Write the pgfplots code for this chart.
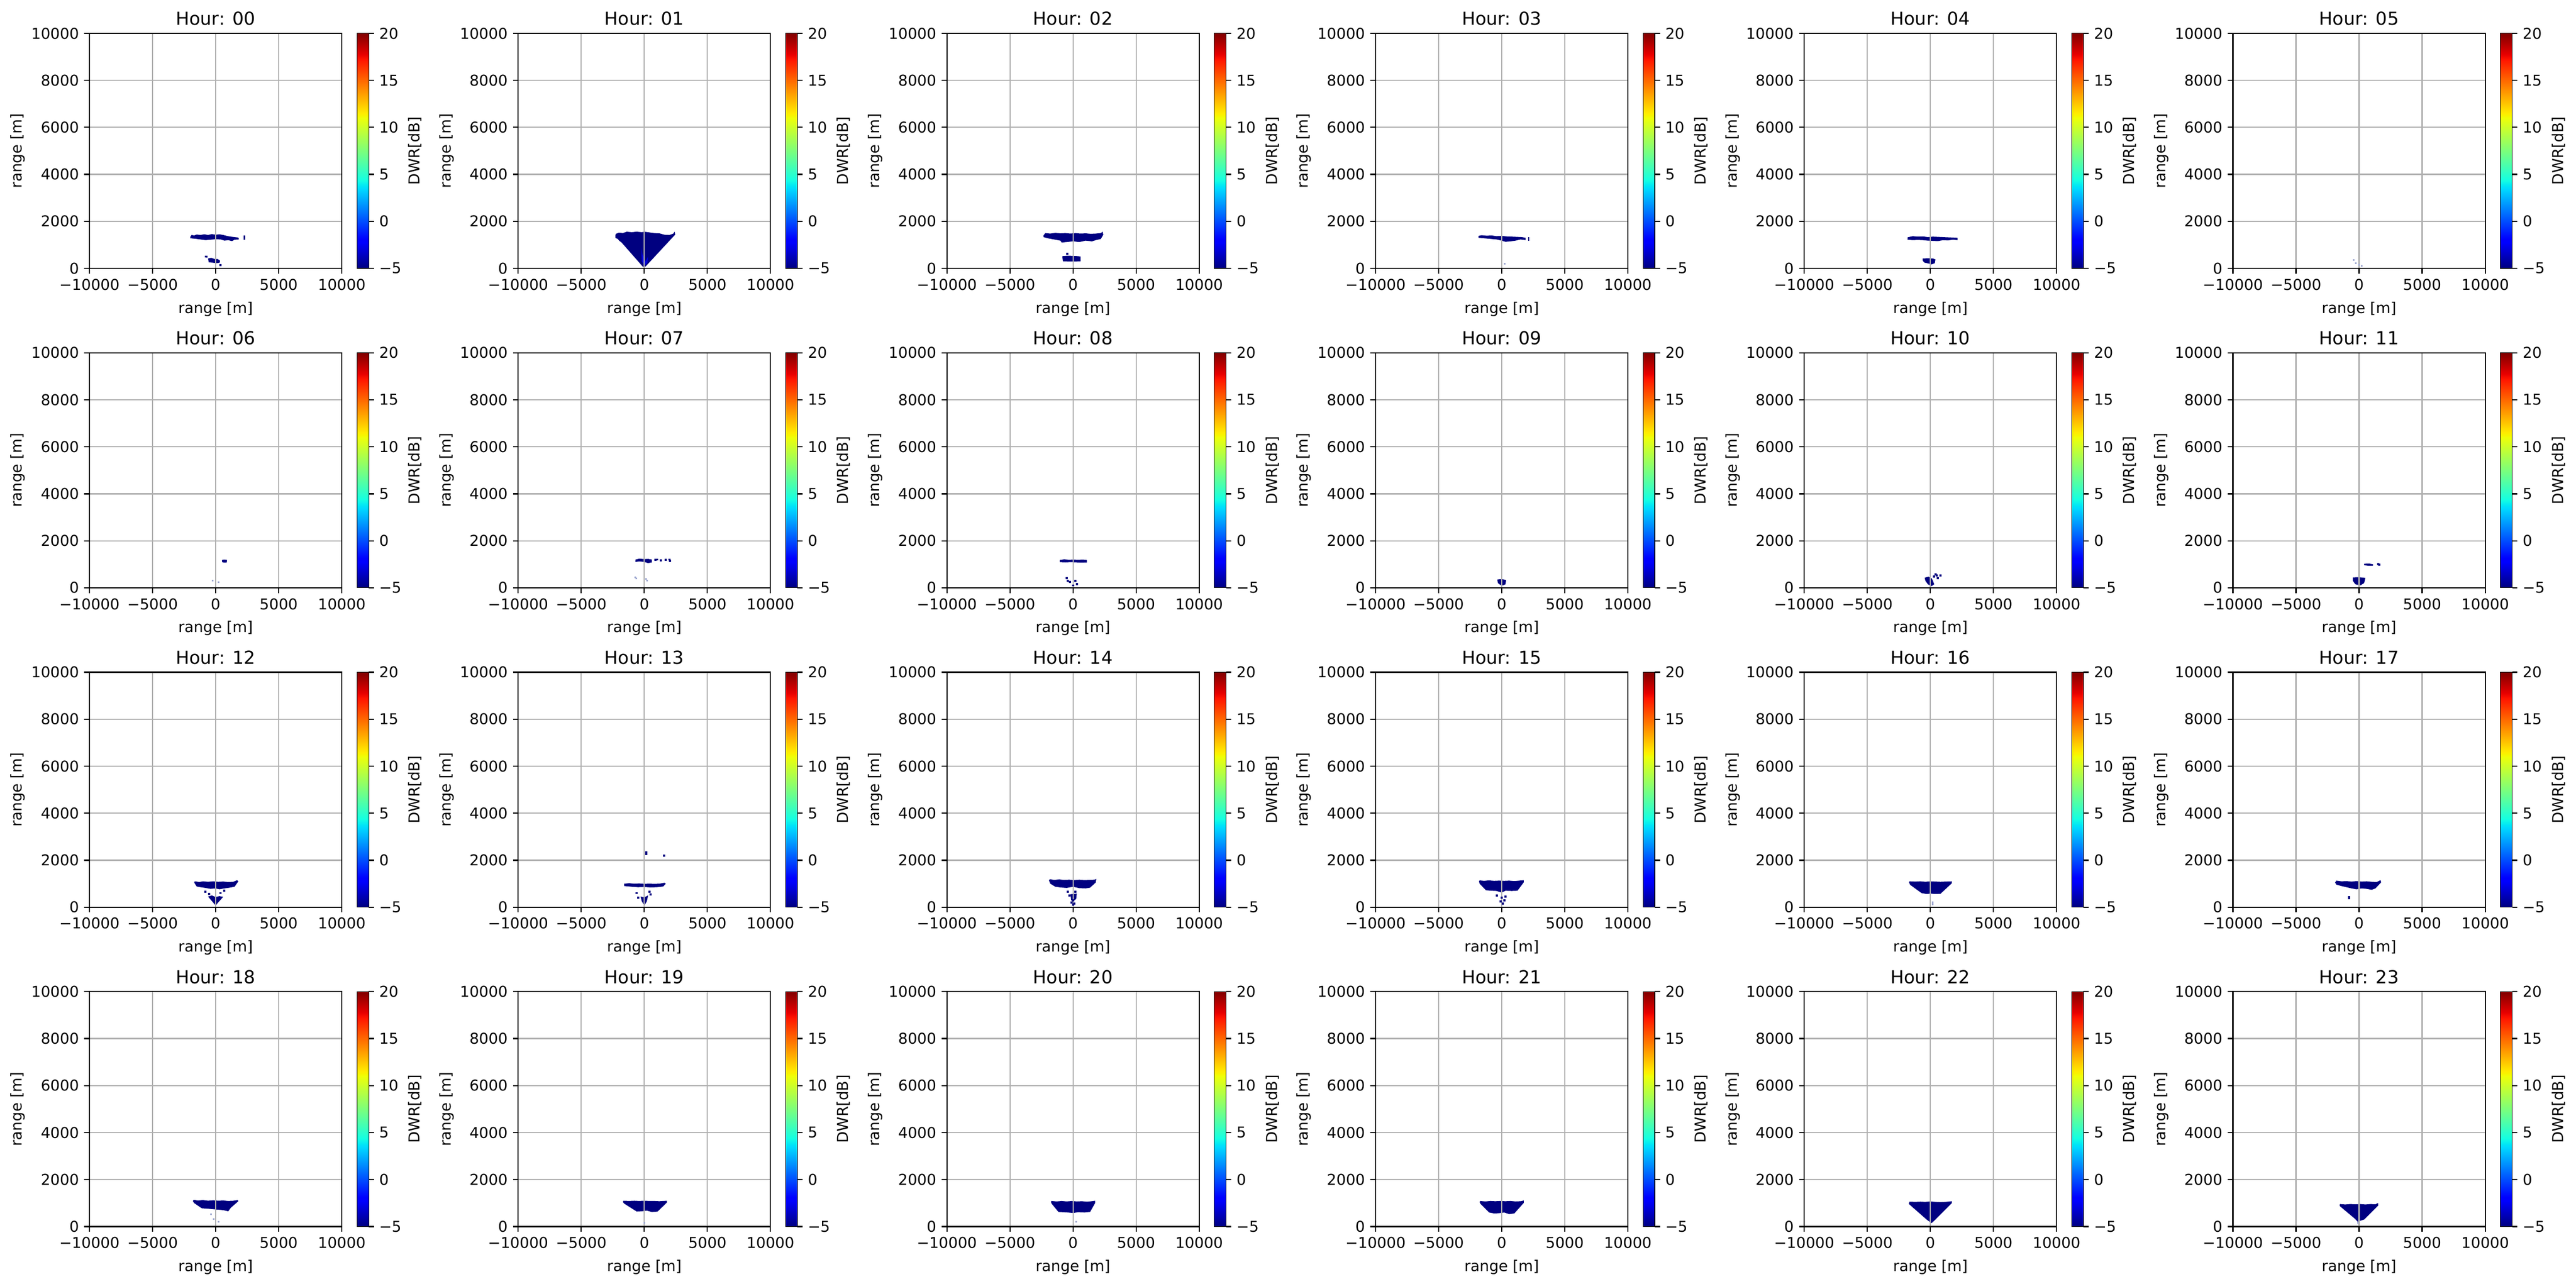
\documentclass[border=0pt]{standalone}
\usepackage{fontspec}
\setmainfont{DejaVu Sans}
\usepackage{pgfplots}
\pgfplotsset{compat=1.18}
\definecolor{dwr}{rgb}{0,0,0.5}
\definecolor{dwrl}{rgb}{0,0,0.85}
\definecolor{faint}{rgb}{0.62,0.66,0.82}
\definecolor{gridgray}{HTML}{B0B0B0}
\pgfplotsset{
  colormap={mpljet}{rgb(0pt)=(0,0,0.5); rgb(22pt)=(0,0,1); rgb(25pt)=(0,0,1); rgb(68pt)=(0,0.86,1); rgb(70pt)=(0,0.9,0.9677); rgb(75pt)=(0.0806,1,0.8871); rgb(128pt)=(0.9355,1,0.0323); rgb(130pt)=(0.9677,0.963,0); rgb(132pt)=(1,0.926,0); rgb(178pt)=(1,0.074,0); rgb(182pt)=(0.909,0,0); rgb(200pt)=(0.5,0,0)},
  blob/.style={fill=dwr, draw=none, mark=none},
  blobl/.style={fill=dwrl, draw=none, mark=none},
  dots/.style={only marks, mark=square*, mark size=0.5pt, color=dwr},
  fdots/.style={only marks, mark=square*, mark size=0.35pt, color=faint},
  panel/.style={
    scale only axis, width=168.5pt, height=157pt, anchor=south west,
    xmin=-10000, xmax=10000, ymin=0, ymax=10000,
    scaled ticks=false,
    xtick={-10000,-5000,0,5000,10000},
    xticklabels={\mbox{−10000},\mbox{−5000},\mbox{0},\mbox{5000},\mbox{10000}},
    ytick={0,2000,4000,6000,8000,10000},
    yticklabels={\mbox{0},\mbox{2000},\mbox{4000},\mbox{6000},\mbox{8000},\mbox{10000}},
    grid=major, major grid style={color=gridgray, line width=0.8pt},
    axis line style={line width=0.8pt, black},
    every tick/.style={black, line width=0.8pt}, major tick length=3.5pt,
    tick align=outside, xtick pos=lower, ytick pos=left,
    axis on top,
    tick label style={font=\fontsize{10}{12}\selectfont},
    every axis title/.style={at={(0.5,1)}, anchor=base, yshift=5.5pt, font=\fontsize{12}{14}\selectfont},
    xlabel={range [m]}, ylabel={range [m]},
    every axis x label/.style={at={([yshift=-29.9pt]axis description cs:0.5,0)}, anchor=base, font=\fontsize{10}{12}\selectfont},
    every axis y label/.style={at={([xshift=-45pt]axis description cs:0,0.5)}, anchor=base, rotate=90, font=\fontsize{10}{12}\selectfont},
    colorbar, colormap name=mpljet, point meta min=-5, point meta max=20,
    colorbar shift/.style={xshift=10.1pt},
    colorbar style={
      at={(parent axis.north east)}, anchor=north west,
      scale only axis, width=7.9pt, height=157pt,
      title={}, xlabel={}, grid=none, scaled ticks=false,
      xtick=\empty, ymin=-5, ymax=20,
      ytick={-5,0,5,10,15,20},
      yticklabels={\mbox{−5},\mbox{0},\mbox{5},\mbox{10},\mbox{15},\mbox{20}},
      ytick pos=right, yticklabel pos=right, tick align=outside,
      major tick length=3.5pt,
      ylabel={DWR[dB]},
      every axis y label/.style={at={([xshift=34pt]axis description cs:1,0.5)}, anchor=base, rotate=90, font=\fontsize{10}{12}\selectfont},
    },
  },
}
\begin{document}
\begin{tikzpicture}
\path[use as bounding box] (0,0) rectangle (1720.4pt,857.5pt);
% ---------------- row 0 ----------------
\begin{axis}[panel, at={(59.76pt,678.2pt)}, title={Hour: 00}]
\addplot[blob] coordinates {(-2000,1350)(-1900,1420)(-1700,1400)(-1500,1440)(-1200,1420)(-900,1450)(-600,1420)(-300,1460)(0,1430)(300,1450)(600,1420)(900,1380)(1200,1350)(1500,1330)(1800,1310)(1850,1230)(1500,1220)(1300,1160)(1000,1200)(700,1180)(400,1230)(0,1240)(-400,1220)(-800,1200)(-1200,1230)(-1600,1260)(-2000,1280)};
\addplot[blob] coordinates {(2230,1220)(2330,1220)(2330,1400)(2230,1400)};
\addplot[blob] coordinates {(-850,540)(-650,540)(-650,460)(-850,470)};
\addplot[blob] coordinates {(-600,420)(-350,450)(-100,400)(150,400)(350,330)(350,250)(100,220)(-200,240)(-550,260)};
\addplot[dots] coordinates {(400,140)};
\end{axis}
\begin{axis}[panel, at={(346.06pt,678.2pt)}, title={Hour: 01}]
\addplot[blob] coordinates {(-2300,1400)(-2250,1470)(-2000,1520)(-1700,1500)(-1400,1560)(-1000,1540)(-600,1560)(-200,1540)(0,1560)(400,1530)(800,1500)(1200,1490)(1600,1430)(2000,1420)(2300,1480)(2400,1560)(2450,1440)(100,80)(-100,60)(-1800,1100)(-2000,1180)(-2100,1250)(-2300,1300)};
\addplot[blobl] coordinates {(-250,900)(-150,600)(100,300)(300,500)(250,250)(0,110)(-200,300)};
\end{axis}
\begin{axis}[panel, at={(632.36pt,678.2pt)}, title={Hour: 02}]
\addplot[blob] coordinates {(-2340,1400)(-2200,1500)(-1800,1480)(-1400,1510)(-1000,1490)(-600,1500)(-200,1480)(200,1500)(600,1480)(1000,1490)(1400,1470)(1800,1480)(2200,1500)(2350,1560)(2400,1430)(2200,1250)(1800,1200)(1500,1150)(1000,1180)(500,1120)(0,1150)(-500,1120)(-900,1100)(-1000,1180)(-1500,1230)(-2000,1280)(-2340,1330)};
\addplot[blob] coordinates {(-850,520)(-400,540)(0,530)(400,520)(600,500)(600,300)(200,290)(-300,290)(-800,300)};
\addplot[dots] coordinates {(-450,620)};
\end{axis}
\begin{axis}[panel, at={(918.66pt,678.2pt)}, title={Hour: 03}]
\addplot[blob] coordinates {(-1840,1380)(-1600,1410)(-1200,1390)(-800,1400)(-400,1370)(0,1380)(400,1360)(800,1350)(1200,1340)(1600,1330)(1900,1300)(1900,1200)(1500,1230)(1100,1180)(700,1150)(300,1130)(0,1180)(-400,1230)(-800,1250)(-1200,1270)(-1600,1290)(-1840,1300)};
\addplot[blob] coordinates {(2080,1180)(2160,1180)(2160,1330)(2080,1330)};
\addplot[fdots] coordinates {(250,190)};
\end{axis}
\begin{axis}[panel, at={(1204.96pt,678.2pt)}, title={Hour: 04}]
\addplot[blob] coordinates {(-1800,1320)(-1400,1370)(-1000,1350)(-600,1360)(-200,1330)(200,1350)(600,1340)(1000,1330)(1400,1320)(1800,1310)(2150,1300)(2150,1200)(1800,1220)(1400,1190)(1000,1200)(600,1160)(200,1170)(-200,1180)(-600,1200)(-1000,1210)(-1400,1200)(-1800,1220)};
\addplot[blob] coordinates {(-600,420)(-200,430)(200,420)(400,380)(350,220)(100,170)(-100,200)(-500,250)(-600,330)};
\end{axis}
\begin{axis}[panel, at={(1491.26pt,678.2pt)}, title={Hour: 05}]
\addplot[blob] coordinates {(-30,1100)(30,1100)(30,1180)(-30,1180)};
\addplot[fdots] coordinates {(-450,350)(-250,220)(0,150)(200,100)};
\end{axis}
% ---------------- row 1 ----------------
\begin{axis}[panel, at={(59.76pt,464.8pt)}, title={Hour: 06}]
\addplot[blob] coordinates {(500,1180)(650,1200)(900,1190)(880,1080)(700,1070)(520,1090)};
\addplot[fdots] coordinates {(-250,300)(250,240)};
\end{axis}
\begin{axis}[panel, at={(346.06pt,464.8pt)}, title={Hour: 07}]
\addplot[blob] coordinates {(-700,1200)(-400,1240)(0,1220)(300,1230)(600,1200)(600,1080)(300,1050)(0,1100)(-400,1120)(-700,1100)};
\addplot[dots] coordinates {(900,1180)(1000,1200)(1300,1160)(1700,1180)(2000,1200)(2050,1150)};
\addplot[fdots] coordinates {(-700,450)(-650,400)(200,300)(150,380)};
\end{axis}
\begin{axis}[panel, at={(632.36pt,464.8pt)}, title={Hour: 08}]
\addplot[blob] coordinates {(-1050,1180)(-700,1210)(-300,1190)(0,1200)(400,1190)(800,1200)(1100,1180)(1100,1080)(700,1070)(300,1080)(-200,1090)(-600,1080)(-1050,1090)};
\addplot[dots] coordinates {(-500,400)(-400,300)(-250,250)(0,100)(200,300)(300,150)};
\end{axis}
\begin{axis}[panel, at={(918.66pt,464.8pt)}, title={Hour: 09}]
\addplot[blob] coordinates {(-350,350)(0,370)(350,330)(300,150)(100,100)(-100,120)(-300,200)};
\end{axis}
\begin{axis}[panel, at={(1204.96pt,464.8pt)}, title={Hour: 10}]
\addplot[blob] coordinates {(-450,430)(-150,470)(100,400)(200,300)(300,150)(100,70)(-200,150)(-400,300)};
\addplot[dots] coordinates {(300,480)(500,520)(800,530)(600,400)(400,560)};
\end{axis}
\begin{axis}[panel, at={(1491.26pt,464.8pt)}, title={Hour: 11}]
\addplot[blob] coordinates {(-500,440)(0,450)(500,420)(400,200)(100,100)(-300,150)(-500,300)};
\addplot[blob] coordinates {(400,1020)(800,1030)(1100,1000)(1100,940)(700,940)(400,960)};
\addplot[dots] coordinates {(1500,1000)(1600,990)};
\end{axis}
% ---------------- row 2 ----------------
\begin{axis}[panel, at={(59.76pt,251.4pt)}, title={Hour: 12}]
\addplot[blob] coordinates {(-1700,1050)(-1650,1100)(-1300,1070)(-1000,1100)(-600,1080)(-200,1100)(200,1080)(600,1090)(1000,1070)(1400,1080)(1700,1150)(1800,1100)(1500,870)(1100,830)(700,800)(300,760)(0,800)(-400,780)(-800,820)(-1200,850)(-1500,880)};
\addplot[blob] coordinates {(-600,450)(-300,500)(0,430)(300,470)(600,440)(200,200)(0,70)(-200,200)};
\addplot[dots] coordinates {(-800,650)(700,700)(400,600)(-500,560)};
\end{axis}
\begin{axis}[panel, at={(346.06pt,251.4pt)}, title={Hour: 13}]
\addplot[blob] coordinates {(-1600,1000)(-1200,1020)(-800,1000)(-400,1010)(0,990)(400,1000)(800,990)(1200,1000)(1600,1040)(1700,1000)(1500,880)(1000,850)(500,840)(0,860)(-500,850)(-1000,870)(-1600,900)};
\addplot[blob] coordinates {(-300,450)(0,420)(300,500)(200,250)(0,70)(-200,250)};
\addplot[dots] coordinates {(-600,600)(400,650)(500,550)(-500,400)(150,2250)(150,2330)(1550,2200)};
\end{axis}
\begin{axis}[panel, at={(632.36pt,251.4pt)}, title={Hour: 14}]
\addplot[blob] coordinates {(-1900,1130)(-1850,1190)(-1500,1160)(-1100,1180)(-700,1160)(-300,1170)(100,1150)(500,1170)(900,1150)(1300,1160)(1700,1170)(1850,1200)(1800,1050)(1350,830)(1000,800)(500,810)(0,870)(-500,820)(-1000,840)(-1400,870)(-1800,1000)};
\addplot[blob] coordinates {(-200,550)(300,580)(250,350)(0,250)(-150,300)};
\addplot[dots] coordinates {(-400,650)(-300,500)(200,650)(0,300)(-100,200)(100,150)(0,100)};
\end{axis}
\begin{axis}[panel, at={(918.66pt,251.4pt)}, title={Hour: 15}]
\addplot[blob] coordinates {(-1800,1100)(-1750,1140)(-1400,1120)(-1000,1140)(-600,1120)(-200,1130)(200,1120)(600,1130)(1000,1110)(1400,1130)(1750,1150)(1750,1060)(1250,700)(800,690)(300,700)(0,620)(-400,690)(-800,700)(-1250,720)(-1750,1000)};
\addplot[dots] coordinates {(-400,500)(0,400)(200,300)(-100,250)(100,150)(300,450)};
\end{axis}
\begin{axis}[panel, at={(1204.96pt,251.4pt)}, title={Hour: 16}]
\addplot[blob] coordinates {(-1700,1060)(-1650,1100)(-1200,1090)(-800,1100)(-400,1080)(0,1100)(400,1090)(800,1080)(1200,1090)(1700,1100)(1700,1020)(800,570)(400,560)(0,580)(-300,560)(-700,600)(-1600,950)};
\addplot[fdots] coordinates {(200,200)(200,130)};
\end{axis}
\begin{axis}[panel, at={(1491.26pt,251.4pt)}, title={Hour: 17}]
\addplot[blob] coordinates {(-1900,1050)(-1800,1130)(-1400,1100)(-1000,1110)(-600,1090)(-200,1110)(200,1090)(600,1100)(1000,1080)(1400,1070)(1700,1150)(1750,1060)(1300,800)(1000,740)(600,780)(200,800)(-200,760)(-600,800)(-1000,850)(-1400,900)(-1800,960)};
\addplot[dots] coordinates {(-800,380)(-800,440)};
\end{axis}
% ---------------- row 3 ----------------
\begin{axis}[panel, at={(59.76pt,38.0pt)}, title={Hour: 18}]
\addplot[blob] coordinates {(-1800,1080)(-1750,1140)(-1400,1110)(-1000,1130)(-600,1100)(-200,1120)(200,1100)(600,1110)(1000,1090)(1400,1100)(1750,1130)(1800,1080)(1200,800)(1000,650)(600,700)(200,720)(-200,740)(-600,760)(-1100,780)(-1700,1000)};
\addplot[fdots] coordinates {(-350,520)(-150,320)(250,210)};
\end{axis}
\begin{axis}[panel, at={(346.06pt,38.0pt)}, title={Hour: 19}]
\addplot[blob] coordinates {(-1700,1050)(-1650,1100)(-1200,1090)(-800,1100)(-400,1090)(0,1100)(400,1090)(800,1090)(1200,1080)(1800,1100)(1800,1030)(1050,640)(600,620)(200,680)(-200,650)(-600,640)(-1600,980)};
\addplot[fdots] coordinates {(0,150)};
\end{axis}
\begin{axis}[panel, at={(632.36pt,38.0pt)}, title={Hour: 20}]
\addplot[blob] coordinates {(-1750,1060)(-1700,1090)(-1300,1070)(-900,1090)(-500,1070)(-100,1090)(300,1070)(700,1080)(1100,1060)(1500,1080)(1750,1100)(1750,1000)(1350,620)(900,600)(400,610)(0,580)(-400,600)(-800,610)(-1150,620)(-1700,980)};
\addplot[fdots] coordinates {(250,200)};
\end{axis}
\begin{axis}[panel, at={(918.66pt,38.0pt)}, title={Hour: 21}]
\addplot[blob] coordinates {(-1750,1050)(-1700,1090)(-1300,1070)(-900,1090)(-500,1080)(-100,1090)(300,1080)(700,1090)(1100,1070)(1500,1080)(1750,1110)(1750,1010)(1000,560)(600,530)(200,600)(-200,570)(-600,560)(-1000,600)(-1700,980)};
\end{axis}
\begin{axis}[panel, at={(1204.96pt,38.0pt)}, title={Hour: 22}]
\addplot[blob] coordinates {(-1700,1000)(-1650,1060)(-1200,1050)(-800,1060)(-400,1050)(0,1070)(400,1050)(800,1040)(1200,1050)(1700,1080)(1700,1000)(400,300)(100,150)(0,180)(-300,300)(-1700,960)};
\end{axis}
\begin{axis}[panel, at={(1491.26pt,38.0pt)}, title={Hour: 23}]
\addplot[blob] coordinates {(-1550,920)(-1500,960)(-1100,940)(-700,960)(-300,950)(100,960)(500,940)(900,960)(1300,950)(1500,1000)(1520,900)(400,300)(100,250)(-100,200)(-300,320)(-1500,860)};
\addplot[fdots] coordinates {(-100,150)};
\end{axis}
\end{tikzpicture}
\end{document}
